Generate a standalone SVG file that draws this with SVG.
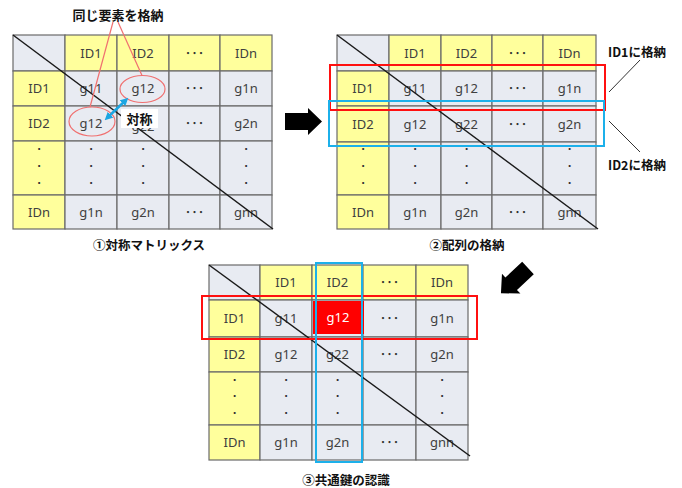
<svg xmlns="http://www.w3.org/2000/svg" width="682" height="488" viewBox="0 0 682 488">
<defs>
<style>
.y{fill:#FFFF9C;stroke:#6a6a6a;stroke-width:1.2}
.c{fill:#E8EBF2;stroke:#6a6a6a;stroke-width:1.2}
.t{font-family:"Noto Sans","Noto Sans CJK JP",sans-serif;font-size:13px;fill:#404040;text-anchor:middle}
.d{font-family:"Noto Sans CJK JP",sans-serif;font-size:13px;fill:#303030;text-anchor:middle}
.v{font-family:"Noto Sans CJK JP",sans-serif;font-size:10.5px;font-weight:bold;fill:#303030;text-anchor:middle}
.b{font-family:"Noto Sans CJK JP",sans-serif;font-size:12.5px;font-weight:bold;fill:#111;text-anchor:middle}
.diag{stroke:#1a1a1a;stroke-width:1.5;fill:none}
.red{fill:none;stroke:#FF1010;stroke-width:2}
.blue{fill:none;stroke:#1CB0EA;stroke-width:2}
.lead{stroke:#F07070;stroke-width:1.2;fill:none}
.gl{stroke:#333;stroke-width:1;fill:none}
</style>
<marker id="bh" viewBox="0 0 10 10" refX="6" refY="5" markerWidth="3.2" markerHeight="3.2" orient="auto-start-reverse" markerUnits="strokeWidth">
<path d="M0,0 L10,5 L0,10 z" fill="#1CA6E2"/>
</marker>
<path id="bigarrow" d="M0,-8.5 H23 V-13.5 L37,0 L23,13.5 V8.5 H0 Z" fill="#000"/>
</defs>

<g id="matrix1">
<rect class="c" x="13" y="35" width="52" height="36"/>
<rect class="y" x="65" y="35" width="52" height="36"/><rect class="y" x="117" y="35" width="52" height="36"/><rect class="y" x="169" y="35" width="51" height="36"/><rect class="y" x="220" y="35" width="52" height="36"/>
<rect class="y" x="13" y="71" width="52" height="35"/><rect class="c" x="65" y="71" width="52" height="35"/><rect class="c" x="117" y="71" width="52" height="35"/><rect class="c" x="169" y="71" width="51" height="35"/><rect class="c" x="220" y="71" width="52" height="35"/>
<rect class="y" x="13" y="106" width="52" height="35"/><rect class="c" x="65" y="106" width="52" height="35"/><rect class="c" x="117" y="106" width="52" height="35"/><rect class="c" x="169" y="106" width="51" height="35"/><rect class="c" x="220" y="106" width="52" height="35"/>
<rect class="y" x="13" y="141" width="52" height="54"/><rect class="c" x="65" y="141" width="52" height="54"/><rect class="c" x="117" y="141" width="52" height="54"/><rect class="c" x="169" y="141" width="51" height="54"/><rect class="c" x="220" y="141" width="52" height="54"/>
<rect class="y" x="13" y="195" width="52" height="34"/><rect class="c" x="65" y="195" width="52" height="34"/><rect class="c" x="117" y="195" width="52" height="34"/><rect class="c" x="169" y="195" width="51" height="34"/><rect class="c" x="220" y="195" width="52" height="34"/>
<text class="t" x="91" y="57.5">ID1</text><text class="t" x="143" y="57.5">ID2</text><text class="d" x="194.5" y="57.5">･･･</text><text class="t" x="246" y="57.5">IDn</text>
<text class="t" x="39" y="93">ID1</text><text class="t" x="91" y="93">g11</text><text class="t" x="143" y="93">g12</text><text class="d" x="194.5" y="93">･･･</text><text class="t" x="246" y="93">g1n</text>
<text class="t" x="39" y="128">ID2</text><text class="t" x="91" y="128">g12</text><text class="t" x="143" y="131">g22</text><text class="d" x="194.5" y="128">･･･</text><text class="t" x="246" y="128">g2n</text>
<text class="v" x="39" y="153">･</text><text class="v" x="39" y="170">･</text><text class="v" x="39" y="187">･</text>
<text class="v" x="91" y="153">･</text><text class="v" x="91" y="170">･</text><text class="v" x="91" y="187">･</text>
<text class="v" x="143" y="153">･</text><text class="v" x="143" y="170">･</text><text class="v" x="143" y="187">･</text>
<text class="v" x="246" y="153">･</text><text class="v" x="246" y="170">･</text><text class="v" x="246" y="187">･</text>
<text class="t" x="39" y="216.5">IDn</text><text class="t" x="91" y="216.5">g1n</text><text class="t" x="143" y="216.5">g2n</text><text class="d" x="194.5" y="216.5">･･･</text><text class="t" x="246" y="216.5">gnn</text>
<line class="diag" x1="13" y1="35" x2="273" y2="229"/>
<ellipse cx="142.5" cy="89" rx="22.5" ry="13.5" fill="none" stroke="#F07070" stroke-width="1.2"/>
<ellipse cx="92" cy="121.5" rx="23" ry="14.5" fill="none" stroke="#F07070" stroke-width="1.2"/>
<rect x="121" y="109" width="37" height="19" fill="#fff"/>
<text class="b" x="139.5" y="123.5" style="font-size:13px">対称</text>
<text class="b" x="149" y="250">①対称マトリックス</text>
</g>

<g id="matrix2">
<rect class="c" x="337" y="35" width="52" height="36"/>
<rect class="y" x="389" y="35" width="52" height="36"/><rect class="y" x="441" y="35" width="51" height="36"/><rect class="y" x="492" y="35" width="51" height="36"/><rect class="y" x="543" y="35" width="53" height="36"/>
<rect class="y" x="337" y="71" width="52" height="35"/><rect class="c" x="389" y="71" width="52" height="35"/><rect class="c" x="441" y="71" width="51" height="35"/><rect class="c" x="492" y="71" width="51" height="35"/><rect class="c" x="543" y="71" width="53" height="35"/>
<rect class="y" x="337" y="106" width="52" height="36"/><rect class="c" x="389" y="106" width="52" height="36"/><rect class="c" x="441" y="106" width="51" height="36"/><rect class="c" x="492" y="106" width="51" height="36"/><rect class="c" x="543" y="106" width="53" height="36"/>
<rect class="y" x="337" y="142" width="52" height="53"/><rect class="c" x="389" y="142" width="52" height="53"/><rect class="c" x="441" y="142" width="51" height="53"/><rect class="c" x="492" y="142" width="51" height="53"/><rect class="c" x="543" y="142" width="53" height="53"/>
<rect class="y" x="337" y="195" width="52" height="34"/><rect class="c" x="389" y="195" width="52" height="34"/><rect class="c" x="441" y="195" width="51" height="34"/><rect class="c" x="492" y="195" width="51" height="34"/><rect class="c" x="543" y="195" width="53" height="34"/>
<text class="t" x="415" y="57.5">ID1</text><text class="t" x="466.5" y="57.5">ID2</text><text class="d" x="517.5" y="57.5">･･･</text><text class="t" x="569.5" y="57.5">IDn</text>
<text class="t" x="363" y="93">ID1</text><text class="t" x="415" y="93">g11</text><text class="t" x="466.5" y="93">g12</text><text class="d" x="517.5" y="93">･･･</text><text class="t" x="569.5" y="93">g1n</text>
<text class="t" x="363" y="128.5">ID2</text><text class="t" x="415" y="128.5">g12</text><text class="t" x="466.5" y="128.5">g22</text><text class="d" x="517.5" y="128.5">･･･</text><text class="t" x="569.5" y="128.5">g2n</text>
<text class="v" x="363" y="153">･</text><text class="v" x="363" y="170">･</text><text class="v" x="363" y="187">･</text>
<text class="v" x="415" y="153">･</text><text class="v" x="415" y="170">･</text><text class="v" x="415" y="187">･</text>
<text class="v" x="466.5" y="153">･</text><text class="v" x="466.5" y="170">･</text><text class="v" x="466.5" y="187">･</text>
<text class="v" x="569.5" y="153">･</text><text class="v" x="569.5" y="170">･</text><text class="v" x="569.5" y="187">･</text>
<text class="t" x="363" y="216.5">IDn</text><text class="t" x="415" y="216.5">g1n</text><text class="t" x="466.5" y="216.5">g2n</text><text class="d" x="517.5" y="216.5">･･･</text><text class="t" x="569.5" y="216.5">gnn</text>
<line class="diag" x1="337" y1="35" x2="598" y2="229"/>
<rect class="red" x="330" y="65" width="275" height="45"/>
<rect class="blue" x="329" y="101" width="275" height="45"/>
<text class="b" x="637" y="57">ID1に格納</text>
<text class="b" x="637" y="170">ID2に格納</text>
<text class="b" x="467" y="250">②配列の格納</text>
</g>

<g id="matrix3">
<rect class="c" x="209" y="265" width="51" height="35"/>
<rect class="y" x="260" y="265" width="52" height="35"/><rect class="y" x="312" y="265" width="51" height="35"/><rect class="y" x="363" y="265" width="53" height="35"/><rect class="y" x="416" y="265" width="52" height="35"/>
<rect class="y" x="209" y="300" width="51" height="37"/><rect class="c" x="260" y="300" width="52" height="37"/><rect class="c" x="312" y="300" width="51" height="37"/><rect class="c" x="363" y="300" width="53" height="37"/><rect class="c" x="416" y="300" width="52" height="37"/>
<rect class="y" x="209" y="337" width="51" height="35"/><rect class="c" x="260" y="337" width="52" height="35"/><rect class="c" x="312" y="337" width="51" height="35"/><rect class="c" x="363" y="337" width="53" height="35"/><rect class="c" x="416" y="337" width="52" height="35"/>
<rect class="y" x="209" y="372" width="51" height="53"/><rect class="c" x="260" y="372" width="52" height="53"/><rect class="c" x="312" y="372" width="51" height="53"/><rect class="c" x="363" y="372" width="53" height="53"/><rect class="c" x="416" y="372" width="52" height="53"/>
<rect class="y" x="209" y="425" width="51" height="35"/><rect class="c" x="260" y="425" width="52" height="35"/><rect class="c" x="312" y="425" width="51" height="35"/><rect class="c" x="363" y="425" width="53" height="35"/><rect class="c" x="416" y="425" width="52" height="35"/>
<rect x="313" y="301" width="51" height="33" fill="#FF0000"/>
<text class="t" x="286" y="287">ID1</text><text class="t" x="337.5" y="287">ID2</text><text class="d" x="389.5" y="287">･･･</text><text class="t" x="442" y="287">IDn</text>
<text class="t" x="234.5" y="323">ID1</text><text class="t" x="286" y="323">g11</text><text class="t" x="338" y="322" style="fill:#fff">g12</text><text class="d" x="389.5" y="323">･･･</text><text class="t" x="442" y="323">g1n</text>
<text class="t" x="234.5" y="359">ID2</text><text class="t" x="286" y="359">g12</text><text class="t" x="337.5" y="359">g22</text><text class="d" x="389.5" y="359">･･･</text><text class="t" x="442" y="359">g2n</text>
<text class="v" x="234.5" y="384">･</text><text class="v" x="234.5" y="400">･</text><text class="v" x="234.5" y="417">･</text>
<text class="v" x="286" y="384">･</text><text class="v" x="286" y="400">･</text><text class="v" x="286" y="417">･</text>
<text class="v" x="337.5" y="384">･</text><text class="v" x="337.5" y="400">･</text><text class="v" x="337.5" y="417">･</text>
<text class="v" x="442" y="384">･</text><text class="v" x="442" y="400">･</text><text class="v" x="442" y="417">･</text>
<text class="t" x="234.5" y="447">IDn</text><text class="t" x="286" y="447">g1n</text><text class="t" x="337.5" y="447">g2n</text><text class="d" x="389.5" y="447">･･･</text><text class="t" x="442" y="447">gnn</text>
<line class="diag" x1="209" y1="265" x2="470" y2="456"/>
<rect class="red" x="202" y="296" width="275" height="43"/>
<rect class="blue" x="316" y="263" width="46" height="199"/>
<text class="b" x="346" y="485">③共通鍵の認識</text>
</g>

<g id="title">
<text class="b" x="118" y="20" style="font-size:13px">同じ要素を格納</text>
</g>

<g id="connectors">
<line class="lead" x1="113" y1="22" x2="90" y2="107"/>
<line class="lead" x1="118" y1="22" x2="142" y2="75.5"/>
<line x1="107" y1="118" x2="126" y2="100" stroke="#1CA6E2" stroke-width="2.5" marker-start="url(#bh)" marker-end="url(#bh)"/>
<line class="gl" x1="609" y1="92" x2="640" y2="60"/>
<line class="gl" x1="609" y1="121" x2="640" y2="152"/>
<use href="#bigarrow" transform="translate(285,121.5)"/>
<use href="#bigarrow" transform="translate(528,268) rotate(137)"/>
</g>
</svg>
